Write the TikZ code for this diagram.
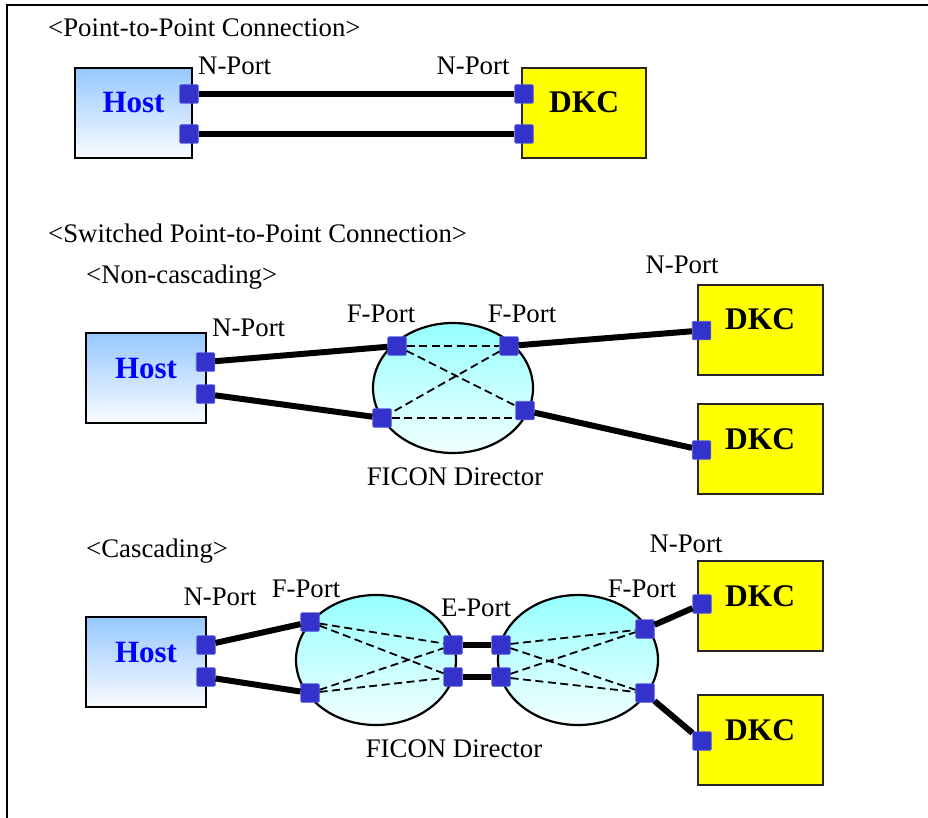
\documentclass[tikz,border=0pt]{standalone}
\usepackage{fontspec}
\setmainfont{Liberation Serif}
\usetikzlibrary{shapes.geometric}
\definecolor{portblue}{RGB}{51,51,204}
\definecolor{portedge}{RGB}{90,90,225}
\definecolor{hosttop}{RGB}{150,200,255}
\definecolor{hostbot}{RGB}{250,252,255}
\definecolor{elltop}{RGB}{150,255,255}
\definecolor{ellbot}{RGB}{242,255,255}
\definecolor{hosttext}{RGB}{0,0,255}
\definecolor{dkcfill}{RGB}{255,255,0}
\begin{document}
\begin{tikzpicture}[x=1pt,y=-1pt,
  lbl/.style={font=\fontsize{26.8}{30}\selectfont, inner sep=0pt, anchor=base},
  lblw/.style={lbl, anchor=base west},
  hostbox/.style={draw, line width=2pt, top color=hosttop, bottom color=hostbot,
     minimum height=90pt, text=hosttext, font=\fontsize{31}{34}\selectfont\bfseries,
     text height=22pt, text depth=22pt, inner sep=0pt},
  dkcbox/.style={draw=black!85, line width=2pt, fill=dkcfill,
     minimum height=90pt, font=\fontsize{31.5}{34}\selectfont\bfseries,
     text height=22pt, text depth=22pt, inner sep=0pt},
  director/.style={ellipse, draw, line width=2.2pt, top color=elltop, bottom color=ellbot,
     minimum width=160pt, minimum height=130pt, inner sep=0pt},
  portsq/.style={rectangle, fill=portblue, draw=portedge, line width=0.6pt,
     minimum width=18.5pt, minimum height=18.5pt, inner sep=0pt, rounded corners=1pt},
  link/.style={line width=6pt},
  inlink/.style={line width=1.8pt, dash pattern=on 8pt off 4.5pt}
]
\useasboundingbox (0,0) rectangle (928,818);
% frame
\draw[line width=1.8pt] (7,818) -- (7,5) -- (928,5);

% ---------- Point-to-point ----------
\node[lblw] (t1) at (48,37) {<Point-to-Point Connection>};
\node[hostbox, minimum width=117pt] (host1) at (133.5,113) {Host};
\node[dkcbox, minimum width=124pt] (dkc1) at (584,113) {DKC};
\node[portsq] (h1a) at (189,94) {};
\node[portsq] (h1b) at (189,134) {};
\node[portsq] (d1a) at (524,94) {};
\node[portsq] (d1b) at (524,134) {};
\node[lblw] (np1) at (198,75) {N-Port};
\node[lbl] (np2) at (473,75) {N-Port};
\draw[link] (h1a) -- (d1a);
\draw[link] (h1b) -- (d1b);

% ---------- Switched, non-cascading ----------
\node[lblw] (t2) at (48,243) {<Switched Point-to-Point Connection>};
\node[lblw] (t3) at (86,283) {<Non-cascading>};
\node[hostbox, minimum width=120pt] (host2) at (146,378) {Host};
\node[dkcbox, minimum width=125pt] (dkc2) at (760,329.5) {DKC};
\node[dkcbox, minimum width=125pt] (dkc3) at (760,449) {DKC};
\node[director] (dir1) at (453,388) {};
\node[portsq] (h2a) at (205.5,362) {};
\node[portsq] (h2b) at (205.5,394) {};
\node[portsq] (f1) at (397,346) {};
\node[portsq] (f2) at (509,346) {};
\node[portsq] (f3) at (382,418) {};
\node[portsq] (f4) at (525,410.5) {};
\node[portsq] (d2p) at (701.5,330.5) {};
\node[portsq] (d3p) at (701.5,450) {};
\node[lblw] (np3) at (212,336) {N-Port};
\node[lbl] (fp1) at (381,322) {F-Port};
\node[lbl] (fp2) at (522,322) {F-Port};
\node[lbl] (np4) at (682,273) {N-Port};
\node[lbl] (fd1) at (455,485) {FICON Director};
\draw[link] (h2a) -- (f1);
\draw[link] (h2b) -- (f3);
\draw[link] (f2) -- (d2p);
\draw[link] (f4) -- (d3p);
\draw[inlink] (f1) -- (f2);
\draw[inlink] (f3.east) -- (f3.east -| f4.west);
\draw[inlink] (f1) -- (f4);
\draw[inlink] (f2) -- (f3);

% ---------- Cascading ----------
\node[lblw] (t4) at (86,557) {<Cascading>};
\node[hostbox, minimum width=120pt] (host3) at (146,662) {Host};
\node[dkcbox, minimum width=125pt] (dkc4) at (760,606) {DKC};
\node[dkcbox, minimum width=125pt] (dkc5) at (760,740) {DKC};
\node[director] (dir2) at (376,660) {};
\node[director] (dir3) at (578,660) {};
\node[portsq] (h3a) at (206,645) {};
\node[portsq] (h3b) at (206,677) {};
\node[portsq] (lf1) at (310,622) {};
\node[portsq] (lf2) at (310,693) {};
\node[portsq] (le1) at (453,645) {};
\node[portsq] (le2) at (453,677) {};
\node[portsq] (re1) at (501,645) {};
\node[portsq] (re2) at (501,677) {};
\node[portsq] (rf1) at (645,629) {};
\node[portsq] (rf2) at (645,693) {};
\node[portsq] (d4p) at (702,604) {};
\node[portsq] (d5p) at (702,741) {};
\node[lbl] (np5) at (220,605) {N-Port};
\node[lbl] (fp3) at (306,597) {F-Port};
\node[lbl] (ep1) at (476,616) {E-Port};
\node[lbl] (fp4) at (642,597) {F-Port};
\node[lbl] (np6) at (686,552) {N-Port};
\node[lbl] (fd2) at (454,757) {FICON Director};
\draw[link] (h3a) -- (lf1);
\draw[link] (h3b) -- (lf2);
\draw[link] (le1) -- (re1);
\draw[link] (le2) -- (re2);
\draw[link] (rf1) -- (d4p);
\draw[link] (rf2) -- (d5p);
\draw[inlink] (lf1) -- (le1);
\draw[inlink] (lf1) -- (le2);
\draw[inlink] (lf2) -- (le1);
\draw[inlink] (lf2) -- (le2);
\draw[inlink] (re1) -- (rf1);
\draw[inlink] (re1) -- (rf2);
\draw[inlink] (re2) -- (rf1);
\draw[inlink] (re2) -- (rf2);
\end{tikzpicture}
\end{document}
